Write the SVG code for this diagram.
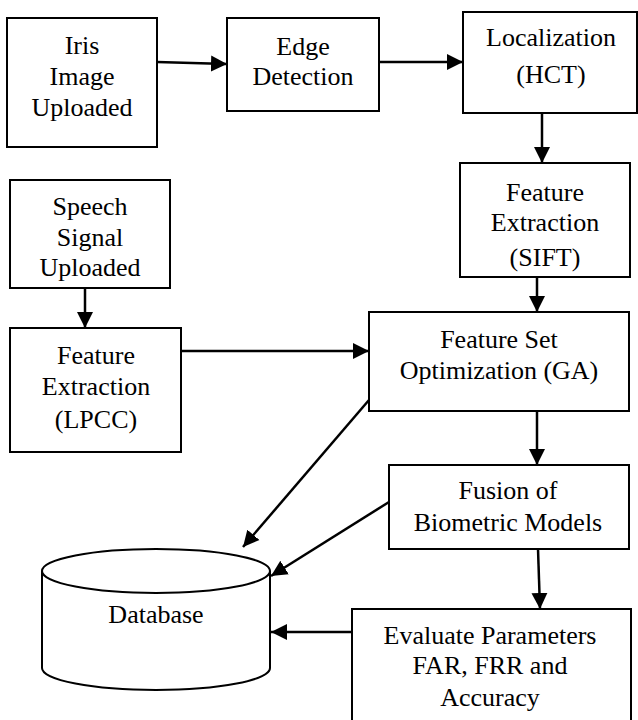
<svg xmlns="http://www.w3.org/2000/svg" width="638" height="720" viewBox="0 0 638 720">
<style>
.box{fill:#fff;stroke:#000;stroke-width:2}
.lbl{font-family:'Liberation Serif','Times New Roman','DejaVu Serif',serif;font-size:26px;fill:#000;text-anchor:middle}
.conn{stroke:#000;stroke-width:2.5;fill:none;marker-end:url(#ah)}
</style>
<defs>
<marker id="ah" markerUnits="userSpaceOnUse" markerWidth="18" markerHeight="18" refX="16" refY="8" orient="auto" viewBox="0 0 18 16">
<path d="M0,0 L16,8 L0,16 Z" fill="#000"/>
</marker>
</defs>
<rect width="638" height="720" fill="#fff"/>
<g id="iris">
<rect class="box" x="7" y="18" width="150" height="129"/>
<text class="lbl" x="82" y="54">Iris</text>
<text class="lbl" x="82" y="85">Image</text>
<text class="lbl" x="82" y="116">Uploaded</text>
</g>
<g id="edge">
<rect class="box" x="227" y="18" width="152" height="93"/>
<text class="lbl" x="303" y="55">Edge</text>
<text class="lbl" x="303" y="85">Detection</text>
</g>
<g id="loc">
<rect class="box" x="463" y="12" width="174" height="101"/>
<text class="lbl" x="551" y="46">Localization</text>
<text class="lbl" x="551" y="83">(HCT)</text>
</g>
<g id="sift">
<rect class="box" x="460" y="163" width="170" height="114"/>
<text class="lbl" x="545" y="201">Feature</text>
<text class="lbl" x="545" y="231">Extraction</text>
<text class="lbl" x="545" y="266">(SIFT)</text>
</g>
<g id="speech">
<rect class="box" x="10" y="180" width="160" height="108"/>
<text class="lbl" x="90" y="215">Speech</text>
<text class="lbl" x="90" y="246">Signal</text>
<text class="lbl" x="90" y="276">Uploaded</text>
</g>
<g id="lpcc">
<rect class="box" x="10" y="328" width="171" height="124"/>
<text class="lbl" x="96" y="364">Feature</text>
<text class="lbl" x="96" y="395">Extraction</text>
<text class="lbl" x="96" y="428">(LPCC)</text>
</g>
<g id="ga">
<rect class="box" x="369" y="312" width="260" height="99"/>
<text class="lbl" x="499" y="348">Feature Set</text>
<text class="lbl" x="499" y="379">Optimization (GA)</text>
</g>
<g id="fusion">
<rect class="box" x="389" y="465" width="240" height="84"/>
<text class="lbl" x="508" y="499">Fusion of</text>
<text class="lbl" x="508" y="531">Biometric Models</text>
</g>
<g id="evaluate">
<rect class="box" x="352" y="609" width="279" height="125"/>
<text class="lbl" x="490" y="644">Evaluate Parameters</text>
<text class="lbl" x="490" y="674">FAR, FRR and</text>
<text class="lbl" x="490" y="706">Accuracy</text>
</g>
<g id="database">
<path class="box" d="M42,571 L42,668 A114,22 0 0 0 270,668 L270,571"/>
<ellipse class="box" cx="156" cy="571" rx="114" ry="22"/>
<text class="lbl" x="156" y="623">Database</text>
</g>
<g id="connectors">
<line class="conn" x1="157" y1="62" x2="227" y2="64"/>
<line class="conn" x1="379" y1="62" x2="463" y2="62"/>
<line class="conn" x1="542" y1="113" x2="542" y2="163"/>
<line class="conn" x1="85" y1="288" x2="85" y2="328"/>
<line class="conn" x1="181" y1="351" x2="369" y2="351"/>
<line class="conn" x1="537" y1="277" x2="537" y2="312"/>
<line class="conn" x1="537" y1="411" x2="537" y2="465"/>
<line class="conn" x1="538" y1="549" x2="540" y2="609"/>
<line class="conn" x1="369" y1="400" x2="243" y2="547"/>
<line class="conn" x1="389" y1="502" x2="271" y2="576"/>
<line class="conn" x1="352" y1="632" x2="271" y2="632"/>
</g>
</svg>
